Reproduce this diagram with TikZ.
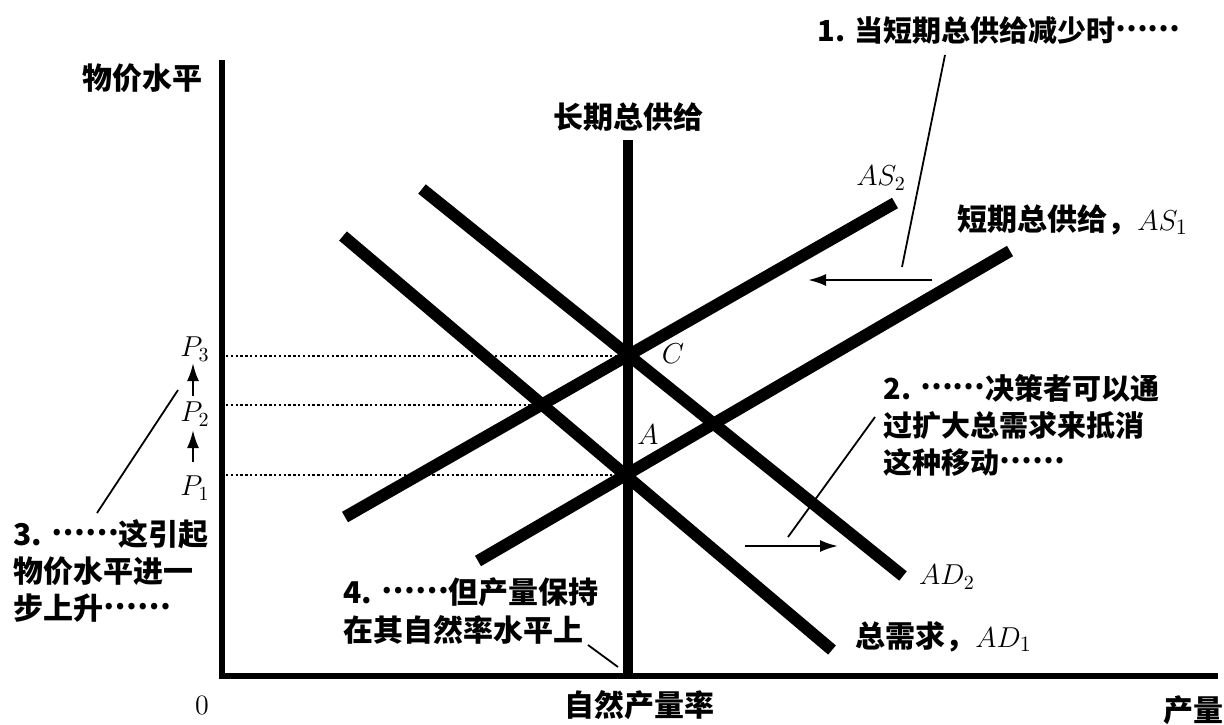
\documentclass[tikz,border=0pt]{standalone}
\usepackage{fontspec}
\newfontfamily\cjk{Noto Sans CJK SC}
\newcommand\midots{\raisebox{0.32em}{……}}
\usetikzlibrary{arrows.meta}
\begin{document}
\begin{tikzpicture}[x=0.5pt,y=-0.5pt,
  aggline/.style={line width=6pt},
  lrasline/.style={line width=5pt},
  axisline/.style={line width=2.7pt},
  guideline/.style={line width=1.1pt, dash pattern=on 1.2pt off 1.2pt},
  leaderline/.style={line width=0.9pt},
  shiftarrow/.style={line width=1.2pt, -{Latex[length=9pt,width=6pt]}},
  cjklabel/.style={font=\cjk\bfseries\fontsize{15}{17.5}\selectfont, inner sep=0pt},
  mathlabel/.style={font=\fontsize{14}{17}\selectfont, inner sep=0pt},
]
\path[use as bounding box] (0,0) rectangle (1224,724);

% axes
\coordinate (yTop) at (222,60);
\coordinate (origin) at (222,676);
\coordinate (xEnd) at (1218,676);
\draw[axisline] (yTop) -- (origin) -- (xEnd);

% curve end points
\coordinate (as1a) at (478,561); \coordinate (as1b) at (1010,251);
\coordinate (as2a) at (345,517); \coordinate (as2b) at (895,203);
\coordinate (ad1a) at (343,236); \coordinate (ad1b) at (832,650);
\coordinate (ad2a) at (422,189); \coordinate (ad2b) at (903,576);
\coordinate (lrasTop) at (628,140); \coordinate (lrasBot) at (628,676);

% intersections
\coordinate (C) at (628,356);
\coordinate (A) at (628,475);
\coordinate (B) at (542,405);
\coordinate (p3y) at (226,356);
\coordinate (p2y) at (226,405);
\coordinate (p1y) at (226,475);

\draw[guideline] (p3y) -- (C);
\draw[guideline] (p2y) -- (B);
\draw[guideline] (p1y) -- (A);

\draw[aggline] (as1a) -- (as1b);
\draw[aggline] (as2a) -- (as2b);
\draw[aggline] (ad1a) -- (ad1b);
\draw[aggline] (ad2a) -- (ad2b);
\draw[lrasline] (lrasTop) -- (lrasBot);

% labels
\node[cjklabel] (ylab) at (142,78) {物价水平};
\node[cjklabel] (lraslab) at (628,117) {长期总供给};
\node[cjklabel, anchor=west, font=\cjk\bfseries\fontsize{14.5}{17.5}\selectfont] (note1) at (817,30) {1. 当短期总供给减少时\midots};
\node[mathlabel] (as2lab) at (881,178) {$AS_2$};
\node[cjklabel, anchor=west] (as1lab) at (957,220) {短期总供给，$AS_1$};
\node[cjklabel, anchor=west, align=left, font=\cjk\bfseries\fontsize{14.5}{18.5}\selectfont] (note2) at (883,425) {2. \midots 决策者可以通\\过扩大总需求来抵消\\这种移动\midots};
\node[mathlabel] (Clab) at (673,354) {$C$};
\node[mathlabel] (Alab) at (648,435) {$A$};
\node[mathlabel] (p3lab) at (195,349) {$P_3$};
\node[mathlabel] (p2lab) at (195,414) {$P_2$};
\node[mathlabel] (p1lab) at (195,488) {$P_1$};
\node[cjklabel, anchor=west, align=left, font=\cjk\bfseries\fontsize{15}{18.5}\selectfont] (note3) at (13,571) {3. \midots 这引起\\物价水平进一\\步上升\midots};
\node[cjklabel, anchor=west, align=left, font=\cjk\bfseries\fontsize{15}{19}\selectfont] (note4) at (343,611) {4. \midots 但产量保持\\在其自然率水平上};
\node[mathlabel] (ad2lab) at (947,577) {$AD_2$};
\node[cjklabel, anchor=west] (ad1lab) at (855,637) {总需求，$AD_1$};
\node[mathlabel] (zero) at (202,705) {0};
\node[cjklabel] (xlab) at (639,705) {自然产量率};
\node[cjklabel] (qlab) at (1193,710) {产量};

% leader lines
\coordinate (l1a) at (945,55); \coordinate (l1b) at (902,267);
\coordinate (l2a) at (875,417); \coordinate (l2b) at (788,537);
\coordinate (l3a) at (178,390); \coordinate (l3b) at (97,513);
\coordinate (l4a) at (588,645); \coordinate (l4b) at (618,667);
\draw[leaderline] (l1a) -- (l1b);
\draw[leaderline] (l2a) -- (l2b);
\draw[leaderline] (l3a) -- (l3b);
\draw[leaderline] (l4a) -- (l4b);

% shift arrows
\coordinate (s1a) at (932,280); \coordinate (s1b) at (808,280);
\coordinate (s2a) at (745,546); \coordinate (s2b) at (838,546);
\draw[shiftarrow] (s1a) -- (s1b);
\draw[shiftarrow] (s2a) -- (s2b);

% price arrows
\coordinate (pa1) at (193,462); \coordinate (pb1) at (193,430);
\coordinate (pa2) at (193,396); \coordinate (pb2) at (193,363);
\draw[shiftarrow] (pa1) -- (pb1);
\draw[shiftarrow] (pa2) -- (pb2);
\end{tikzpicture}
\end{document}
